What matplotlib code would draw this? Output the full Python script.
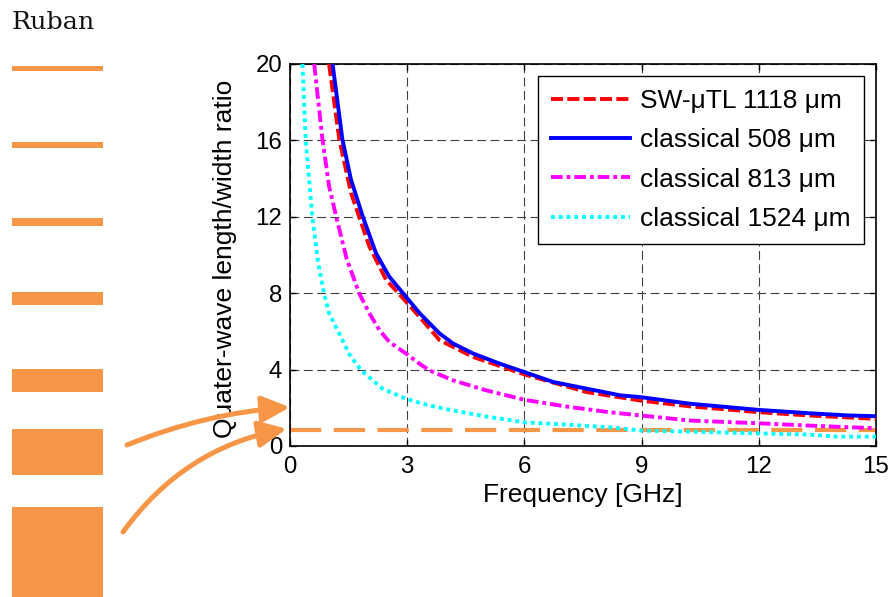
import matplotlib
matplotlib.use("Agg")
import matplotlib.pyplot as plt

plt.rcParams['font.family'] = ['Liberation Sans', 'DejaVu Sans']

# ---------------- data ----------------
freq_sw = [1.0, 1.26, 1.56, 2.03, 2.46, 2.93, 3.32, 3.83, 4.69, 6.0, 7.6, 8.97, 10.26, 12.0, 13.26, 15.0]
ratio_sw = [20.0, 16.07, 13.26, 10.45, 8.7, 7.65, 6.75, 5.54, 4.66, 3.75, 2.82, 2.38, 2.07, 1.77, 1.6, 1.42]

freq_508 = [1.09, 1.34, 1.56, 1.86, 2.2, 2.54, 2.93, 3.32, 3.83, 4.17, 4.69, 5.37, 6.0, 6.74, 7.6, 8.46, 8.97, 10.26, 12.0, 13.26, 14.29, 15.0]
ratio_508 = [20.0, 16.07, 13.96, 12.03, 10.1, 8.87, 7.91, 6.95, 5.89, 5.37, 4.84, 4.31, 3.87, 3.35, 3.0, 2.65, 2.56, 2.21, 1.89, 1.72, 1.6, 1.56]

freq_813 = [0.62, 0.83, 1.0, 1.18, 1.45, 1.77, 2.03, 2.29, 2.54, 2.97, 3.32, 3.57, 4.17, 5.03, 6.0, 7.06, 8.17, 8.97, 10.26, 12.0, 13.26, 15.0]
ratio_813 = [20.0, 16.07, 13.6, 12.03, 9.8, 8.0, 6.95, 6.07, 5.45, 4.84, 4.3, 3.96, 3.44, 2.91, 2.42, 2.07, 1.77, 1.6, 1.33, 1.19, 1.07, 0.93]

freq_1524 = [0.32, 0.40, 0.57, 0.72, 0.87, 1.0, 1.26, 1.52, 1.82, 2.37, 2.97, 3.57, 4.17, 5.03, 6.0, 7.06, 8.17, 8.97, 10.26, 12.0, 13.26, 14.0, 15.0]
ratio_1524 = [20.0, 16.07, 12.03, 9.6, 8.0, 6.95, 5.89, 4.8, 3.96, 3.0, 2.47, 2.12, 1.86, 1.54, 1.24, 1.12, 0.98, 0.81, 0.75, 0.66, 0.6, 0.49, 0.49]

ribbon_level = 0.84          # orange dashed reference level
arrow_targets = [2.03, 0.9]  # values pointed at by the arrows

labels = ["SW-\u03bcTL 1118 \u03bcm", "classical 508 \u03bcm",
          "classical 813 \u03bcm", "classical 1524 \u03bcm"]
xticks = [0, 3, 6, 9, 12, 15]
yticks = [0, 4, 8, 12, 16, 20]

# ribbons (decorative sketch at left): centre and thickness in pixels
ribbon_centers = [68.2, 145.0, 221.9, 298.5, 380.3, 452.0, 553.0]
ribbon_thickness = [5.3, 6.9, 7.6, 12.2, 22.7, 46.0, 92.0]

ORANGE = '#F79646'

W, H = 892, 597
fig = plt.figure(figsize=(W / 100, H / 100), dpi=100)

# decorative layer for the ribbon sketch
deco = fig.add_axes([0, 0, 1, 1], zorder=-1)
deco.set_xlim(0, W)
deco.set_ylim(H, 0)
deco.axis('off')
deco.barh(ribbon_centers, 91, left=12, height=ribbon_thickness, color=ORANGE)
fig.text(12 / W, 1 - 29 / H, "Ruban", family='DejaVu Serif', fontsize=18.3,
         va='baseline', ha='left', color='#111111')

ax = fig.add_axes([290 / W, 1 - 446 / H, 586 / W, 382 / H])

ax.axhline(ribbon_level, color=ORANGE, lw=3, linestyle=(0, (7.5, 3)), zorder=1.5)

l1, = ax.plot(freq_sw, ratio_sw, color='red', lw=2.8, linestyle=(0, (3.1, 1.1)), zorder=3)
l2, = ax.plot(freq_508, ratio_508, color='blue', lw=2.8, zorder=3)
l3, = ax.plot(freq_813, ratio_813, color='magenta', lw=2.8,
              linestyle=(0, (3.0, 1.0, 1.0, 1.0)), zorder=3)
l4, = ax.plot(freq_1524, ratio_1524, color='cyan', lw=2.8,
              linestyle=(0, (1.0, 1.0)), dash_capstyle='butt', zorder=3)

ax.set_xlim(0, 15)
ax.set_ylim(0, 20)
ax.set_xticks(xticks)
ax.set_yticks(yticks)
ax.tick_params(direction='in', length=4.5, width=1, top=True, right=True,
               labelsize=17.3)
ax.tick_params(axis='x', pad=7.5)
ax.tick_params(axis='y', pad=5.5)
for s in ax.spines.values():
    s.set_linewidth(1.2)
ax.grid(True, color='0.25', lw=0.8, linestyle=(0, (8, 4)))
ax.set_axisbelow(True)

ax.set_xlabel("Frequency [GHz]", fontsize=19, labelpad=3.5)
ax.set_ylabel("Quater-wave length/width ratio", fontsize=19)
ax.yaxis.set_label_coords(-0.0904, 0.49)

leg = ax.legend([l1, l2, l3, l4], labels, loc='upper right', fontsize=19,
                handlelength=3.0, handletextpad=0.38, labelspacing=0.58,
                borderpad=0.5, borderaxespad=0.45, fancybox=False,
                framealpha=1, edgecolor='black')
leg.get_frame().set_linewidth(1.0)
leg.set_zorder(5)

# arrows from the ribbon sketch to the chart
arrow_starts = [(127, H - 445), (123, H - 532)]
arrow_rads = [-0.08, -0.2]
arrow_x = [0.0, -0.08]
for (sx, sy), tgt, rad, axx in zip(arrow_starts, arrow_targets, arrow_rads, arrow_x):
    ax.annotate('', xy=(axx, tgt), xycoords='data', xytext=(sx, sy),
                textcoords='figure pixels', annotation_clip=False,
                arrowprops=dict(arrowstyle='-|>,head_length=17,head_width=8',
                                mutation_scale=1, color=ORANGE, lw=3.6,
                                shrinkA=0, shrinkB=0,
                                connectionstyle=f'arc3,rad={rad}'),
                zorder=6)

fig.savefig('out.png', dpi=100)
